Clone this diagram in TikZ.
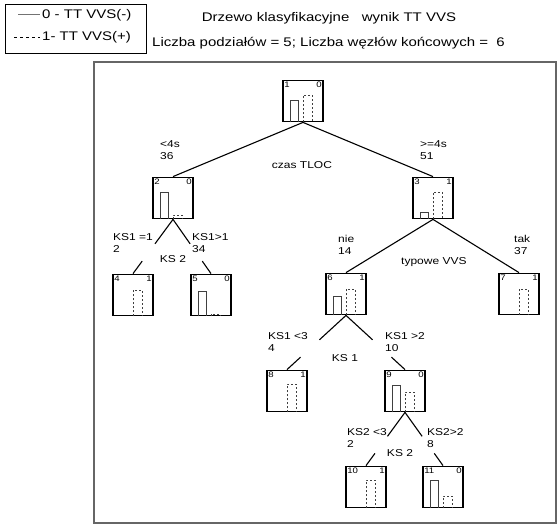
\documentclass[tikz,border=0pt]{standalone}
\usepackage{fontspec}
\setmainfont{Liberation Sans}[FakeStretch=1.2]

\tikzset{
  box/.style={draw, line width=1.8pt, minimum width=40pt, minimum height=41pt, inner sep=0pt},
  corner/.style={font=\fontsize{8}{8}\selectfont, inner sep=2pt},
  bar/.style={line width=0.9pt, black!75},
  edge/.style={line width=1.1pt},
  lbl/.style={font=\fontsize{10}{12}\selectfont, align=left, anchor=west, inner sep=0pt},
  cut/.style={font=\fontsize{10}{12}\selectfont, inner sep=0pt},
  head/.style={font=\fontsize{12.5}{12.5}\selectfont, inner sep=0pt}
}

% tree node: name, id, class, solid bar, dashed bar
\newcommand{\treebox}[5]{%
  \node[corner, anchor=north west] (#1id) at (#1.north west) {#2};
  \node[corner, anchor=north east] (#1cl) at (#1.north east) {#3};
  \begin{scope}[shift={(#1.south west)}]
    \ifnum#4>0 \draw[bar] (8,0) -- (8,-#4) -- (16,-#4) -- (16,0);\fi
    \ifnum#5>0 \draw[bar, dashed, dash pattern=on 2pt off 2pt] (21,0) -- (21,-#5) -- (30,-#5) -- (30,0);\fi
  \end{scope}}

\begin{document}
\begin{tikzpicture}[x=1pt, y=-1pt]
    \useasboundingbox (0,0) rectangle (557,526);

    % legend and title
    \node[draw, line width=1.4pt, minimum width=141pt, minimum height=49pt, anchor=north west, inner sep=0pt] (legend) at (5,4) {};
    \draw[line width=1pt, black!55] (18,15) -- (40,15);
    \node[head, anchor=west] (leg0) at (42,15) {0 - TT VVS(-)};
    \draw[line width=0.9pt, dashed, dash pattern=on 3pt off 3pt] (14,37) -- (40,37);
    \node[head, anchor=west] (leg1) at (42,37) {1- TT VVS(+)};
    \node[head] (title) at (329,18) {Drzewo klasyfikacyjne\quad wynik TT VVS};
    \node[head, anchor=west] (subtitle) at (152,43) {Liczba podziałów = 5; Liczba węzłów końcowych = \ 6};

    % frame
    \draw[line width=1.8pt, black!60] (94,62) rectangle (556,523);

    % tree nodes
    \node[box] (n1) at (303,101) {};
    \node[box] (n2) at (173,198) {};
    \node[box] (n3) at (433,198) {};
    \node[box] (n4) at (133,295) {};
    \node[box] (n5) at (211,295) {};
    \node[box] (n6) at (346,294) {};
    \node[box] (n7) at (519,294) {};
    \node[box] (n8) at (287,391) {};
    \node[box] (n9) at (405,391) {};
    \node[box] (n10) at (366,487) {};
    \node[box] (n11) at (443,487) {};

    \treebox{n1}{1}{0}{22}{27}
    \treebox{n2}{2}{0}{27}{4}
    \treebox{n3}{3}{1}{7}{27}
    \treebox{n4}{4}{1}{0}{26}
    \treebox{n5}{5}{0}{25}{2}
    \treebox{n6}{6}{1}{19}{26}
    \treebox{n7}{7}{1}{0}{26}
    \treebox{n8}{8}{1}{0}{28}
    \treebox{n9}{9}{0}{27}{20}
    \treebox{n10}{10}{1}{0}{28}
    \treebox{n11}{11}{0}{28}{12}

    % connectors
    \foreach \p/\c in {n1/n2, n1/n3, n3/n6, n3/n7}
        \draw[edge] (\p.south) -- (\c.north);
    \foreach \p/\c in {n2/n4, n2/n5, n6/n8, n6/n9, n9/n10, n9/n11} {
        \path (\p.south) -- (\c.north) coordinate[pos=0.45] (\c-a) coordinate[pos=0.77] (\c-b);
        \draw[edge] (\p.south) -- (\c-a) (\c-b) -- (\c.north);
    }

    % split labels
    \node[lbl] (l2) at (160,150) {<4s\\36};
    \node[cut] (s1) at (302,165) {czas TLOC};
    \node[lbl] (l3) at (420,150) {>=4s\\51};
    \node[lbl] (l4) at (113,243) {KS1 =1\\2};
    \node[lbl] (l5) at (192,243) {KS1>1\\34};
    \node[cut] (s2) at (173,259) {KS 2};
    \node[lbl] (l6) at (338,245) {nie\\14};
    \node[cut, anchor=west] (s3) at (401,262) {typowe VVS};
    \node[lbl] (l7) at (514,245) {tak\\37};
    \node[lbl] (l8) at (268,342) {KS1 <3\\4};
    \node[lbl] (l9) at (385,342) {KS1 >2\\10};
    \node[cut] (s6) at (345,358) {KS 1};
    \node[lbl] (l10) at (347,438) {KS2 <3\\2};
    \node[lbl] (l11) at (427,438) {KS2>2\\8};
    \node[cut] (s9) at (400,453) {KS 2};
\end{tikzpicture}
\end{document}
